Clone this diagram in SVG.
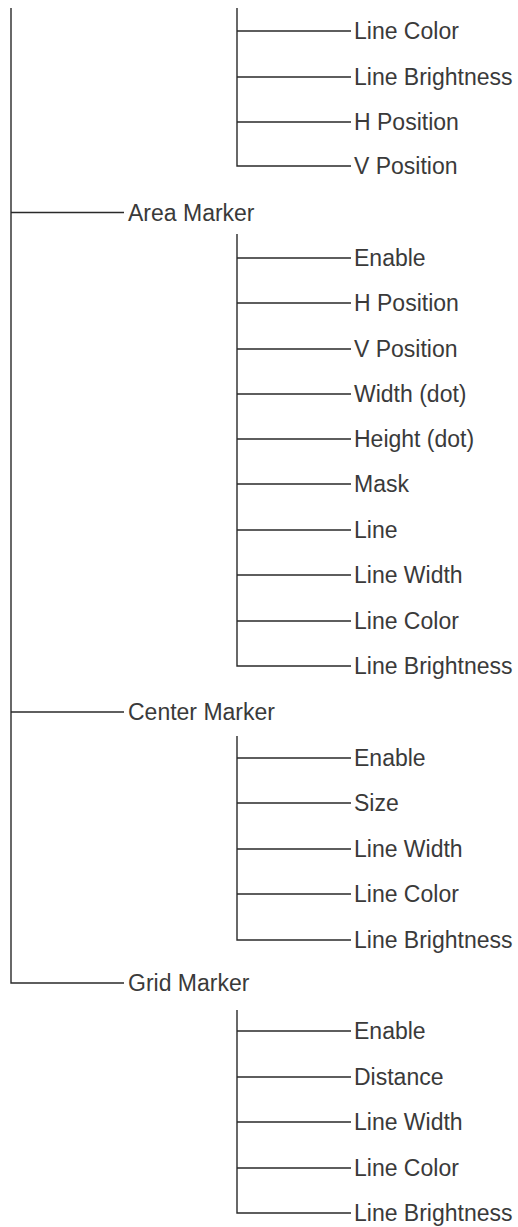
<svg xmlns="http://www.w3.org/2000/svg" width="518" height="1227" viewBox="0 0 518 1227">
<style>
.c{stroke:#2a2a2a;stroke-width:1.4;fill:none}
text{font-family:"Liberation Sans",Arial,sans-serif;font-size:23px;fill:#3a3a3a}
</style>
<rect width="518" height="1227" fill="#fff"/>
<g id="connectors" class="c">
<path d="M11 8V983H124"/>
<path d="M11 212.5H124"/>
<path d="M11 712H124"/>
<path d="M237 8V166H351M237 31H351M237 77H351M237 122H351"/>
<path d="M237 234V666H351M237 258H351M237 303H351M237 349H351M237 394H351M237 439H351M237 484H351M237 530H351M237 575H351M237 621H351"/>
<path d="M237 736V940H351M237 758H351M237 803H351M237 849H351M237 894H351"/>
<path d="M237 1010V1213H351M237 1031H351M237 1077H351M237 1122H351M237 1168H351"/>
</g>
<g id="top-items">
<text x="354" y="39">Line Color</text>
<text x="354" y="85">Line Brightness</text>
<text x="354" y="130">H Position</text>
<text x="354" y="174">V Position</text>
</g>
<g id="area-marker"><text x="128" y="220.5">Area Marker</text></g>
<g id="area-items">
<text x="354" y="266">Enable</text>
<text x="354" y="311">H Position</text>
<text x="354" y="357">V Position</text>
<text x="354" y="402">Width (dot)</text>
<text x="354" y="447">Height (dot)</text>
<text x="354" y="492">Mask</text>
<text x="354" y="538">Line</text>
<text x="354" y="583">Line Width</text>
<text x="354" y="629">Line Color</text>
<text x="354" y="674">Line Brightness</text>
</g>
<g id="center-marker"><text x="128" y="720">Center Marker</text></g>
<g id="center-items">
<text x="354" y="766">Enable</text>
<text x="354" y="811">Size</text>
<text x="354" y="857">Line Width</text>
<text x="354" y="902">Line Color</text>
<text x="354" y="948">Line Brightness</text>
</g>
<g id="grid-marker"><text x="128" y="991">Grid Marker</text></g>
<g id="grid-items">
<text x="354" y="1039">Enable</text>
<text x="354" y="1085">Distance</text>
<text x="354" y="1130">Line Width</text>
<text x="354" y="1176">Line Color</text>
<text x="354" y="1221">Line Brightness</text>
</g>
</svg>
